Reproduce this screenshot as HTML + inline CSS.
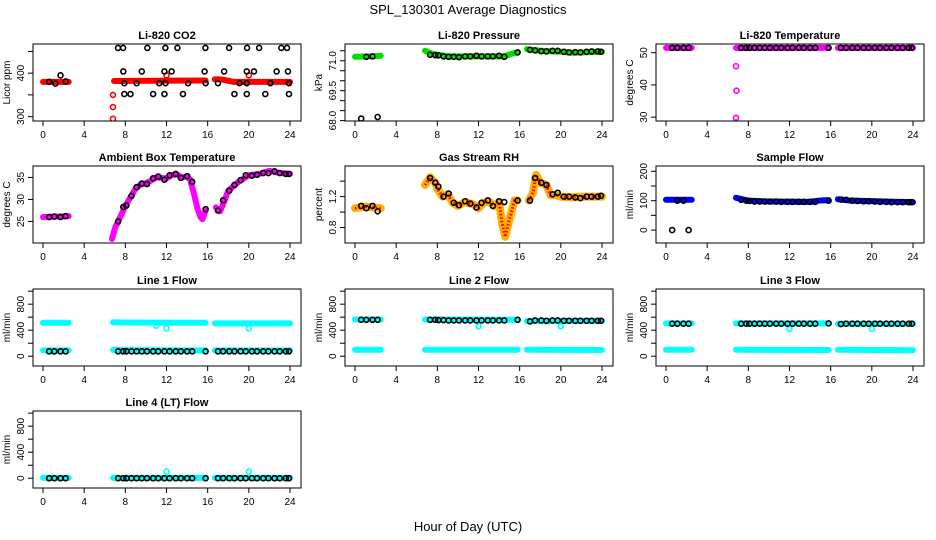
<!DOCTYPE html>
<html><head><meta charset="utf-8"><style>
body{margin:0;background:#fff}
svg{display:block;font-family:"Liberation Sans",sans-serif}
</style></head><body>
<svg id="c" width="936" height="540">
<rect width="936" height="540" fill="#fff"/>
<text x="468" y="14" text-anchor="middle" font-size="13">SPL_130301  Average Diagnostics</text>
<text x="468" y="531" text-anchor="middle" font-size="13">Hour of Day (UTC)</text>
</svg>
<script>
const xTicks=[0,4,8,12,16,20,24];
const H=[0.6,1.1,1.7,2.2,7.3,7.8,8.1,8.6,9.1,9.6,10.1,10.7,11.2,11.8,12.3,12.9,13.4,14.0,14.5,15.8,17.0,17.5,18.1,18.6,19.2,19.7,20.3,20.8,21.4,21.9,22.5,23.0,23.6,23.9];
// CO2
const co2Trace=[[[0,380],[2.5,380]],[[6.9,382],[15.8,383]],[[16.7,386],[17.5,385],[18.5,380],[24,380]]];
const co2RedH=[6.8,6.8,6.8,12.0,20.0];
const co2RedV=[295,322,350,395,395];
const co2BlackH=[0.6,1.2,1.7,2.2,7.29,7.78,10.14,11.89,13.06,15.78,18.08,19.83,21.0,23.16,23.71,7.8,9.6,11.8,12.5,15.7,17.6,19.8,20.5,22.7,23.8,7.9,8.5,10.7,11.8,13.6,18.6,19.8,21.6,23.9,7.9,9.1,11.3,11.9,14.1,15.8,17.0,19.1,19.8,22.1,23.9];
const co2BlackV=[380,376,395,381,458,458,458,458,458,458,458,458,458,458,458,404,404,404,404,404,404,404,404,404,404,352,352,352,352,352,352,352,352,352,377,377,377,377,377,377,377,377,377,377,377];
// Pressure
const presTrace=[[[0,71.2],[1.5,71.22],[2.5,71.25]],[[6.8,71.5],[7.5,71.35],[9,71.22],[12,71.22],[14.5,71.22],[15.2,71.35],[15.8,71.42]],[[16.7,71.58],[18,71.5],[20,71.45],[21,71.4],[24,71.45]]];
const presBlack=[68.1,71.2,71.22,68.18,71.3,71.28,71.27,71.22,71.2,71.2,71.18,71.22,71.22,71.25,71.22,71.22,71.22,71.25,71.2,71.42,71.55,71.52,71.48,71.47,71.5,71.5,71.45,71.42,71.43,71.42,71.45,71.47,71.47,71.45];
// Li-820 temperature
const tempTrace=[[[0,51.5],[2.5,51.5]],[[6.8,51.5],[15.8,51.5]],[[16.7,51.5],[24,51.5]]];
const tempOutH=[6.8,6.85,6.8];
const tempOutV=[45.8,38.2,29.8];
const tempBlack=[51.5,51.5,51.5,51.5,51.5,51.5,51.5,51.5,51.5,51.5,51.5,51.5,51.5,51.5,51.5,51.5,51.5,51.5,51.5,51.5,51.5,51.5,51.5,51.5,51.5,51.5,51.5,51.5,51.5,51.5,51.5,51.5,51.5,51.5];
// Ambient box temperature
const ambTrace=[[[0,26],[1,26.1],[2.5,26.2]],[[6.7,21],[7,23.5],[7.4,25.5],[8,28.5],[8.5,30.5],[9,32.5],[9.5,33.4],[10,33.7],[10.5,34.3],[11,35],[12,34.8],[12.5,35.5],[13,35.7],[13.5,35],[14,35.2],[14.3,34.5],[14.7,31],[15,28],[15.3,26],[15.5,25.5],[15.8,27.5]],[[16.8,28.2],[17.2,27.3],[17.6,29.5],[18,32],[19,34],[20,35.5],[21,35.8],[22,36.5],[23,36],[24,35.8]]];
const ambBlack=[26,26.1,26,26.2,25,28.3,28.6,30.8,32.8,33.6,33.5,34.8,35.2,34.5,35.5,35.8,34.9,35.3,34,27.8,27.5,29.8,32,33.3,34.4,35.5,35.4,35.6,36,36,36.4,36,35.8,35.8];
// Gas stream RH
const rhTrace=[[[0,1.05],[1,1.07],[2.5,1.05]],[[6.8,1.35],[7.3,1.45],[7.8,1.38],[8,1.3],[8.5,1.2],[9,1.23],[9.5,1.12],[10,1.08],[10.7,1.13],[11.5,1.1],[12,1.05],[12.5,1.12],[13,1.14],[13.5,1.08],[14,1.13],[14.3,0.85],[14.6,0.68],[15,0.9],[15.5,1.15],[15.8,1.15]],[[16.9,1.15],[17.3,1.25],[17.6,1.48],[18,1.38],[18.6,1.35],[19,1.22],[19.6,1.22],[20,1.2],[21,1.19],[22,1.2],[23,1.2],[24,1.2]]];
const rhBlack=[1.08,1.05,1.08,1.01,1.44,1.38,1.33,1.2,1.24,1.12,1.09,1.14,1.11,1.06,1.12,1.15,1.08,1.14,1.13,1.15,1.15,1.44,1.38,1.35,1.23,1.25,1.2,1.2,1.19,1.18,1.2,1.2,1.2,1.21];
// Sample flow
const sfTrace=[[[0,103],[2.5,103]],[[6.8,110],[8,100],[10,97],[14,96],[14.8,100],[15.8,102]],[[16.7,105],[18,100],[24,95]]];
const sfBlack=[0,100,100,0,103,100,99,97,97,97,97,97,96,96,96,96,96,96,96,100,104,103,100,99,98,98,97,96,96,95,95,95,95,95];
// Line flows (upper and lower cyan traces)
const l1Up=[[[0,515],[2.5,515]],[[6.8,520],[15.8,515]],[[16.7,505],[24,505]]];
const l1Lo=[[[0,90],[2.5,90]],[[6.8,95],[15.8,88]],[[16.7,90],[24,88]]];
const l1OutH=[11.0,12.0,20.0];
const l1OutV=[470,430,430];
const l1Black=[75,75,75,75,75,75,75,75,75,75,75,75,75,75,75,75,75,75,75,75,75,75,75,75,75,75,75,75,75,75,75,75,75,75];
const l2Up=[[[0,565],[2.5,565]],[[6.8,565],[15.8,560]],[[16.7,540],[24,545]]];
const l2Lo=[[[0,100],[2.5,100]],[[6.8,100],[15.8,100]],[[16.7,100],[24,95]]];
const l2OutH=[12.0,20.0];
const l2OutV=[460,460];
const l2Black=[560,560,560,560,560,560,555,555,550,550,550,550,550,550,550,550,550,550,550,560,535,550,550,545,550,550,545,545,545,545,545,545,545,545];
const l3Up=[[[0,505],[2.5,505]],[[6.8,505],[15.8,505]],[[16.7,500],[24,500]]];
const l3Lo=[[[0,100],[2.5,100]],[[6.8,100],[15.8,95]],[[16.7,100],[24,92]]];
const l3OutH=[12.0,20.0];
const l3OutV=[420,420];
const l3Black=[500,500,500,500,500,500,500,500,500,500,500,500,500,500,500,500,500,500,500,505,495,500,500,500,500,500,500,500,500,500,500,500,500,500];
const l4Up=[[[0,5],[2.5,5]],[[6.8,5],[15.8,5]],[[16.7,5],[24,5]]];
const l4OutH=[12.0,20.0];
const l4OutV=[100,100];
const l4Black=[0,0,0,0,0,0,0,0,0,0,0,0,0,0,0,0,0,0,0,0,0,0,0,0,0,0,0,0,0,0,0,0,0,0];

const svg=document.getElementById('c');
const NS='http://www.w3.org/2000/svg';
function mk(tag,attrs,parent){const e=document.createElementNS(NS,tag);for(const k in attrs)e.setAttribute(k,attrs[k]);(parent||svg).appendChild(e);return e;}
const colL=[33,345,656], rowT=[44,166,289,411], W=268, HH=77;

function panel(o){
  const L=colL[o.c], T=rowT[o.r], B=T+HH, R=L+W;
  const g=mk('g',{});
  
  
  const xs=h=>L+10+h/24*247;
  const ys=v=>B-(v-o.ylim[0])/(o.ylim[1]-o.ylim[0])*HH;
  const t=mk('text',{x:(L+R)/2,y:T-5,'text-anchor':'middle','font-size':11,'font-weight':'bold'},g);
  t.textContent=o.title;
  
  
  xTicks.forEach(v=>{
    mk('line',{x1:xs(v),x2:xs(v),y1:B,y2:B+5,stroke:'#000'},g);
    const tx=mk('text',{x:xs(v),y:B+17,'text-anchor':'middle','font-size':10},g);
    tx.textContent=v;
    
    
  });
  mk('line',{x1:xs(0),x2:xs(24),y1:B+5,y2:B+5,stroke:'#000','stroke-width':0},g);
  o.yt.forEach(v=>{
    mk('line',{x1:L,x2:L-5,y1:ys(v),y2:ys(v),stroke:'#000'},g);
  });
  o.yl.forEach((v,i)=>{
    const tx=mk('text',{transform:`translate(${L-9},${ys(v)}) rotate(-90)`,'text-anchor':'middle','font-size':10},g);
    tx.textContent=o.ylt[i];
    
    
  });
  const yl=mk('text',{transform:`translate(${L-23},${(T+B)/2}) rotate(-90)`,'text-anchor':'middle','font-size':10},g);
  yl.textContent=o.ylab;
  
  
  const clip=mk('clipPath',{id:'cp'+o.name},g);
  mk('rect',{x:L,y:T,width:W,height:HH},clip);
  const pg=mk('g',{'clip-path':`url(#cp${o.name})`},g);
  (o.traces||[]).forEach(tr=>{
    tr.data.forEach(seg=>{
      const p=mk('polyline',{points:seg.map(d=>xs(d[0])+','+ys(d[1])).join(' '),fill:'none',stroke:tr.col,'stroke-width':tr.w||6,'stroke-linecap':'round','stroke-linejoin':'round'},pg);
      
      
      if(tr.over){mk('polyline',{points:seg.map(d=>xs(d[0])+','+ys(d[1])).join(' '),fill:'none',stroke:tr.over,'stroke-width':3,'stroke-dasharray':'1.5 2'},pg);}
    });
  });
  (o.pts||[]).forEach(ps=>{
    ps.v.forEach((v,i)=>{
      const c=mk('circle',{cx:xs(ps.h[i]),cy:ys(v),r:2.5,fill:'none',stroke:ps.col,'stroke-width':1.6},pg);
      
      
    });
  });
  mk('rect',{x:L,y:T,width:W,height:HH,fill:'none',stroke:'#000','stroke-width':1},g);
}
const flowAx={ylim:[-150,1033],yt:[0,200,400,600,800,1000],yl:[0,400,800],ylt:['0','400','800'],ylab:'ml/min'};
panel({name:'co2',c:0,r:0,title:'Li-820 CO2',ylim:[290,467],yt:[300,350,400,450],yl:[300,400],ylt:['300','400'],ylab:'Licor ppm',
  traces:[{data:co2Trace,col:'#f00',w:6}],pts:[{h:co2RedH,v:co2RedV,col:'#f00'},{h:co2BlackH,v:co2BlackV,col:'#000'}]});
panel({name:'pressure',c:1,r:0,title:'Li-820 Pressure',ylim:[67.98,71.84],yt:[68,68.5,69,69.5,70,70.5,71,71.5],yl:[68,69.5,71],ylt:['68.0','69.5','71.0'],ylab:'kPa',
  traces:[{data:presTrace,col:'#00e000',w:6}],pts:[{h:H,v:presBlack,col:'#000'}]});
panel({name:'li820-temp',c:2,r:0,title:'Li-820 Temperature',ylim:[28.8,52.7],yt:[30,40,50],yl:[30,40,50],ylt:['30','40','50'],ylab:'degrees C',
  traces:[{data:tempTrace,col:'#f0f',w:6}],pts:[{h:tempOutH,v:tempOutV,col:'#f0f'},{h:H,v:tempBlack,col:'#000'}]});
panel({name:'ambient-temp',c:0,r:1,title:'Ambient Box Temperature',ylim:[20.1,37.6],yt:[25,30,35],yl:[25,30,35],ylt:['25','30','35'],ylab:'degrees C',
  traces:[{data:ambTrace,col:'#f0f',w:6}],pts:[{h:H,v:ambBlack,col:'#000'}]});
panel({name:'gas-rh',c:1,r:1,title:'Gas Stream RH',ylim:[0.6,1.596],yt:[0.8,1.0,1.2,1.4],yl:[0.8,1.2],ylt:['0.8','1.2'],ylab:'percent',
  traces:[{data:rhTrace,col:'#ffb000',w:8,over:'#f00'}],pts:[{h:H,v:rhBlack,col:'#000'}]});
panel({name:'sample-flow',c:2,r:1,title:'Sample Flow',ylim:[-44,218],yt:[0,50,100,150,200],yl:[0,100,200],ylt:['0','100','200'],ylab:'ml/min',
  traces:[{data:sfTrace,col:'#00f',w:6}],pts:[{h:H,v:sfBlack,col:'#000'}]});
panel(Object.assign({name:'line1-flow',c:0,r:2,title:'Line 1 Flow',traces:[{data:l1Up,col:'#0ff',w:6},{data:l1Lo,col:'#0ff',w:6}],pts:[{h:l1OutH,v:l1OutV,col:'#0ff'},{h:H,v:l1Black,col:'#000'}]},flowAx));
panel(Object.assign({name:'line2-flow',c:1,r:2,title:'Line 2 Flow',traces:[{data:l2Up,col:'#0ff',w:6},{data:l2Lo,col:'#0ff',w:6}],pts:[{h:l2OutH,v:l2OutV,col:'#0ff'},{h:H,v:l2Black,col:'#000'}]},flowAx));
panel(Object.assign({name:'line3-flow',c:2,r:2,title:'Line 3 Flow',traces:[{data:l3Up,col:'#0ff',w:6},{data:l3Lo,col:'#0ff',w:6}],pts:[{h:l3OutH,v:l3OutV,col:'#0ff'},{h:H,v:l3Black,col:'#000'}]},flowAx));
panel(Object.assign({name:'line4-flow',c:0,r:3,title:'Line 4 (LT) Flow',traces:[{data:l4Up,col:'#0ff',w:6}],pts:[{h:l4OutH,v:l4OutV,col:'#0ff'},{h:H,v:l4Black,col:'#000'}]},flowAx));
</script>
</body></html>
